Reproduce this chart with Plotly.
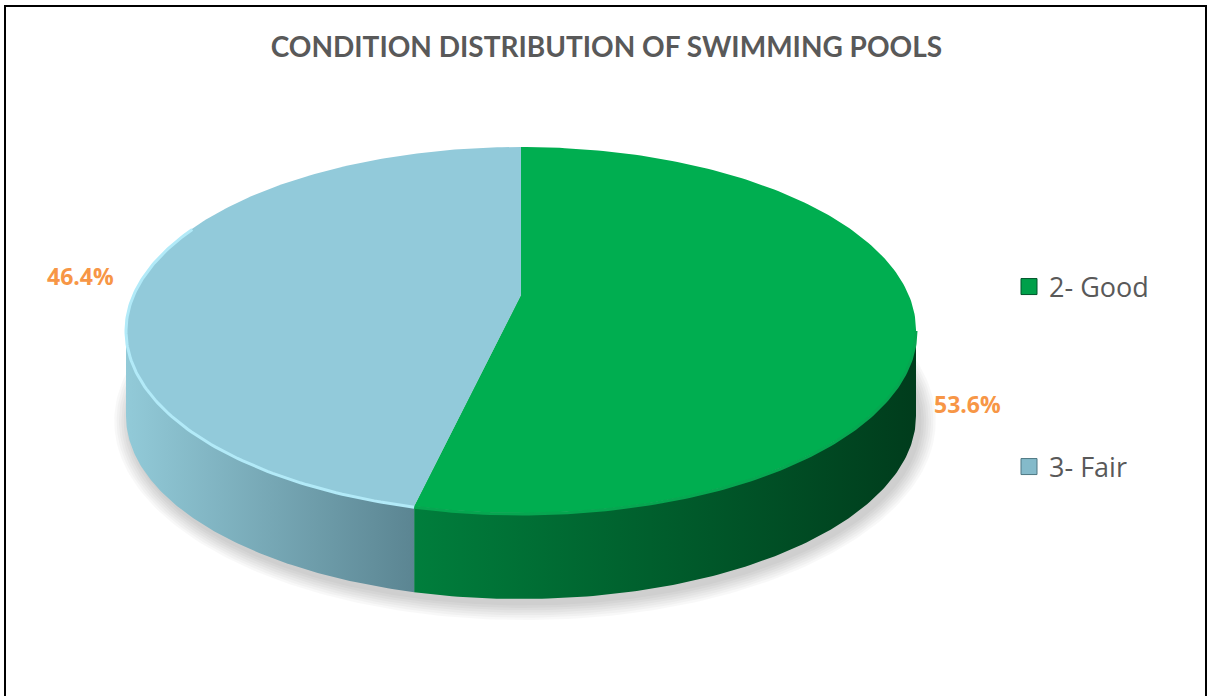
import numpy as np
import plotly.graph_objects as go

# ---------------- data ----------------
categories = ["2- Good", "3- Fair"]
percent_values = [53.6, 46.4]
label_texts = [f"{v:.1f}%" for v in percent_values]
chart_title = "CONDITION DISTRIBUTION OF SWIMMING POOLS"

# ---------------- styles ----------------
top_colors = ["#00AE50", "#92CADA"]
side_colors = [["#007E3C", "#003C1C"], ["#92CAD8", "#5B8592"]]
legend_fill = ["#00A04A", "#84BACA"]
legend_line = ["#00542A", "#4E7783"]
rim_colors = ["#06A650", "#B2EAF8"]
label_color = "#F79646"
text_grey = "#595959"

W, H = 1208, 696
# pie geometry (pixel space)
CX, TOP, BOT, HALF_W, DEPTH = 521.0, 147.0, 513.0, 395.0, 86.0
TILT, DIST = np.radians(30), 4.53
ct, st = np.cos(TILT), np.sin(TILT)
VB = st / (DIST + ct)
VF = -st / (DIST - ct)
th_ext = np.degrees(np.arccos(-ct / DIST))
UMAX = np.sin(np.radians(th_ext)) / (DIST + ct * np.cos(np.radians(th_ext)))
KX = HALF_W / UMAX
KY = (BOT - TOP) / (VB - VF)


def project(theta_deg, drop=0.0):
    t = np.radians(np.asarray(theta_deg, dtype=float))
    X, Z = np.sin(t), np.cos(t)
    zc = DIST + Z * ct
    u, v = X / zc, Z * st / zc
    return CX + u * KX, TOP + (VB - v) * KY + drop


fig = go.Figure()

# soft shadow under the pie
full = np.linspace(0, 360, 361)
bx, by = project(full, DEPTH)
mx, my = CX, (TOP + BOT) / 2 + DEPTH
for k in range(7):
    e = 0.004 + 0.006 * k
    fig.add_trace(go.Scatter(
        x=mx + 4 + (bx - mx) * (1 + e), y=my + 5 + (by - my) * (1 + 2.2 * e),
        mode="lines", line=dict(width=0), fill="toself",
        fillcolor="rgba(0,0,0,0.028)", hoverinfo="skip", showlegend=False))

# angles of slices
cum = np.concatenate([[0], np.cumsum(percent_values)]) / sum(percent_values) * 360
vis_lo, vis_hi = th_ext, 360 - th_ext

# side walls
for i in range(len(categories)):
    a0, a1 = cum[i], cum[i + 1]
    lo, hi = max(a0, vis_lo), min(a1, vis_hi)
    if hi <= lo:
        continue
    arc = np.linspace(lo, hi, 120)
    tx, ty = project(arc)
    bx2, by2 = project(arc[::-1], DEPTH)
    xs = np.concatenate([tx, bx2, tx[:1]])
    ys = np.concatenate([ty, by2, ty[:1]])
    fig.add_trace(go.Scatter(
        x=xs, y=ys, mode="lines", line=dict(width=0), fill="toself",
        fillgradient=dict(type="horizontal",
                          colorscale=[[0, side_colors[i][0]], [1, side_colors[i][1]]],
                          start=float(xs.min()), stop=float(xs.max())),
        hoverinfo="skip", showlegend=False))

# top faces
centre_x = CX
centre_y = TOP + VB * KY
for i in range(len(categories)):
    a0, a1 = cum[i], cum[i + 1]
    arc = np.linspace(a0, a1, 200)
    ax, ay = project(arc)
    xs = np.concatenate([[centre_x], ax, [centre_x]])
    ys = np.concatenate([[centre_y], ay, [centre_y]])
    fig.add_trace(go.Scatter(
        x=xs, y=ys, mode="lines", line=dict(width=0), fill="toself",
        fillcolor=top_colors[i], hoverinfo="skip", showlegend=False))

# rim highlights
for i in range(len(categories)):
    a0, a1 = cum[i], cum[i + 1]
    lo, hi = max(a0, vis_lo), min(a1, vis_hi + 35)
    if hi <= lo:
        continue
    arc = np.linspace(lo, hi, 120)
    rx, ry = project(arc)
    fig.add_trace(go.Scatter(
        x=rx, y=ry + 1, mode="lines", line=dict(width=3, color=rim_colors[i]),
        hoverinfo="skip", showlegend=False))

# legend entries
legend_names = ["legend", "legend2"]
for i, name in enumerate(categories):
    fig.add_trace(go.Scatter(
        x=[None], y=[None], mode="markers", name=name, legend=legend_names[i],
        marker=dict(symbol="square", size=18, color=legend_fill[i],
                    line=dict(color=legend_line[i], width=1))))

# data labels
label_pos = [(967, 404), (80, 276)]
for i, t in enumerate(label_texts):
    fig.add_annotation(x=label_pos[i][0], y=label_pos[i][1], text=t, showarrow=False,
                       font=dict(family="Open Sans", size=23, color=label_color, weight="bold"),
                       xanchor="center", yanchor="middle")

leg_common = dict(font=dict(family="Open Sans", size=27, color=text_grey),
                  bgcolor="rgba(0,0,0,0)", borderwidth=0, xanchor="left", yanchor="middle")
fig.update_layout(
    width=W, height=H, margin=dict(l=0, r=0, t=0, b=0),
    paper_bgcolor="white", plot_bgcolor="white",
    xaxis=dict(range=[0, W], visible=False, fixedrange=True),
    yaxis=dict(range=[H, 0], visible=False, fixedrange=True),
    title=dict(text=chart_title, x=0.502, xanchor="center", y=1 - 47 / H, yanchor="middle",
               font=dict(family="Lato", size=28, color=text_grey, weight="bold")),
    legend=dict(x=1009 / W, y=1 - 287 / H, **leg_common),
    legend2=dict(x=1009 / W, y=1 - 467 / H, **leg_common),
    shapes=[dict(type="rect", xref="x", yref="y", x0=5, x1=1206, y0=6, y1=710,
                 line=dict(color="black", width=2), fillcolor="rgba(0,0,0,0)")],
)

fig.write_html("out.html")
